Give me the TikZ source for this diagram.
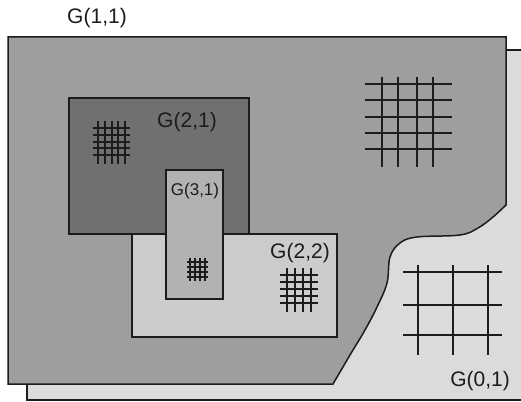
\documentclass[tikz,border=0pt]{standalone}
\usepackage{fontspec}
\setmainfont{Liberation Sans}
\definecolor{ink}{HTML}{1C1C1C}
\definecolor{coarse}{gray}{0.62}
\definecolor{mid}{gray}{0.44}
\definecolor{fine}{gray}{0.8}
\definecolor{finer}{gray}{0.7}
\definecolor{base}{gray}{0.86}

\begin{document}
\begin{tikzpicture}[x=1pt,y=-1pt,region/.style={draw=ink,line width=1.5pt},tag/.style={font=\fontsize{21}{21}\selectfont,text=ink,inner sep=0pt},mesh/.style={draw=ink,line width=1.7pt},smallmesh/.style={draw=ink,line width=1.3pt}]
 \useasboundingbox (0,0) rectangle (521,401);
 \fill[white] (0,0) rectangle (521,401);
 \fill[base] (27,50) rectangle (521,400);
 \draw[region] (521,50) -- (27,50) -- (27,400) -- (521,400);
 \draw[region,fill=coarse] (8,37) -- (506,37) -- (506,205) -- plot[smooth,tension=.6] coordinates {(506,205) (493,217) (478,228) (460,235) (417,237) (400,243) (390,257) (387,283) (377,307) (365,330) (350,355) (333,384)} -- (8,384) -- cycle;
 \draw[region,fill=mid] (69,98) rectangle (249,234);
 \draw[region,fill=fine] (132,234) rectangle (337,337);
 \draw[region,fill=finer] (166,170) rectangle (223,299);
 \foreach \x in {382,398,417,433} \draw[mesh] (\x,77) -- (\x,167);
 \foreach \y in {84,100,117,133,149} \draw[mesh] (365,\y) -- (452,\y);
 \foreach \x in {98,105,112,118,125} \draw[smallmesh] (\x,121) -- (\x,164);
 \foreach \y in {128,135,142,148,155} \draw[smallmesh] (93,\y) -- (130,\y);
 \foreach \x in {190,195,200,205} \draw[smallmesh] (\x,258) -- (\x,281);
 \foreach \y in {262,267,272,277} \draw[smallmesh] (187,\y) -- (208,\y);
 \foreach \x in {287,295,303,311} \draw[smallmesh] (\x,268) -- (\x,312);
 \foreach \y in {275,282,289,296,303} \draw[smallmesh] (280,\y) -- (318,\y);
 \foreach \x in {418,453,488} \draw[mesh] (\x,265) -- (\x,355);
 \foreach \y in {272,305,335} \draw[mesh] (403,\y) -- (502,\y);
 \node[tag] (g11) at (97,18) {G(1,1)};
 \node[tag] (g21) at (187,122) {G(2,1)};
 \node[tag,font=\fontsize{17}{17}\selectfont] (g31) at (195,191) {G(3,1)};
 \node[tag] (g22) at (300,253) {G(2,2)};
 \node[tag] (g01) at (480,381) {G(0,1)};
\end{tikzpicture}
\end{document}
